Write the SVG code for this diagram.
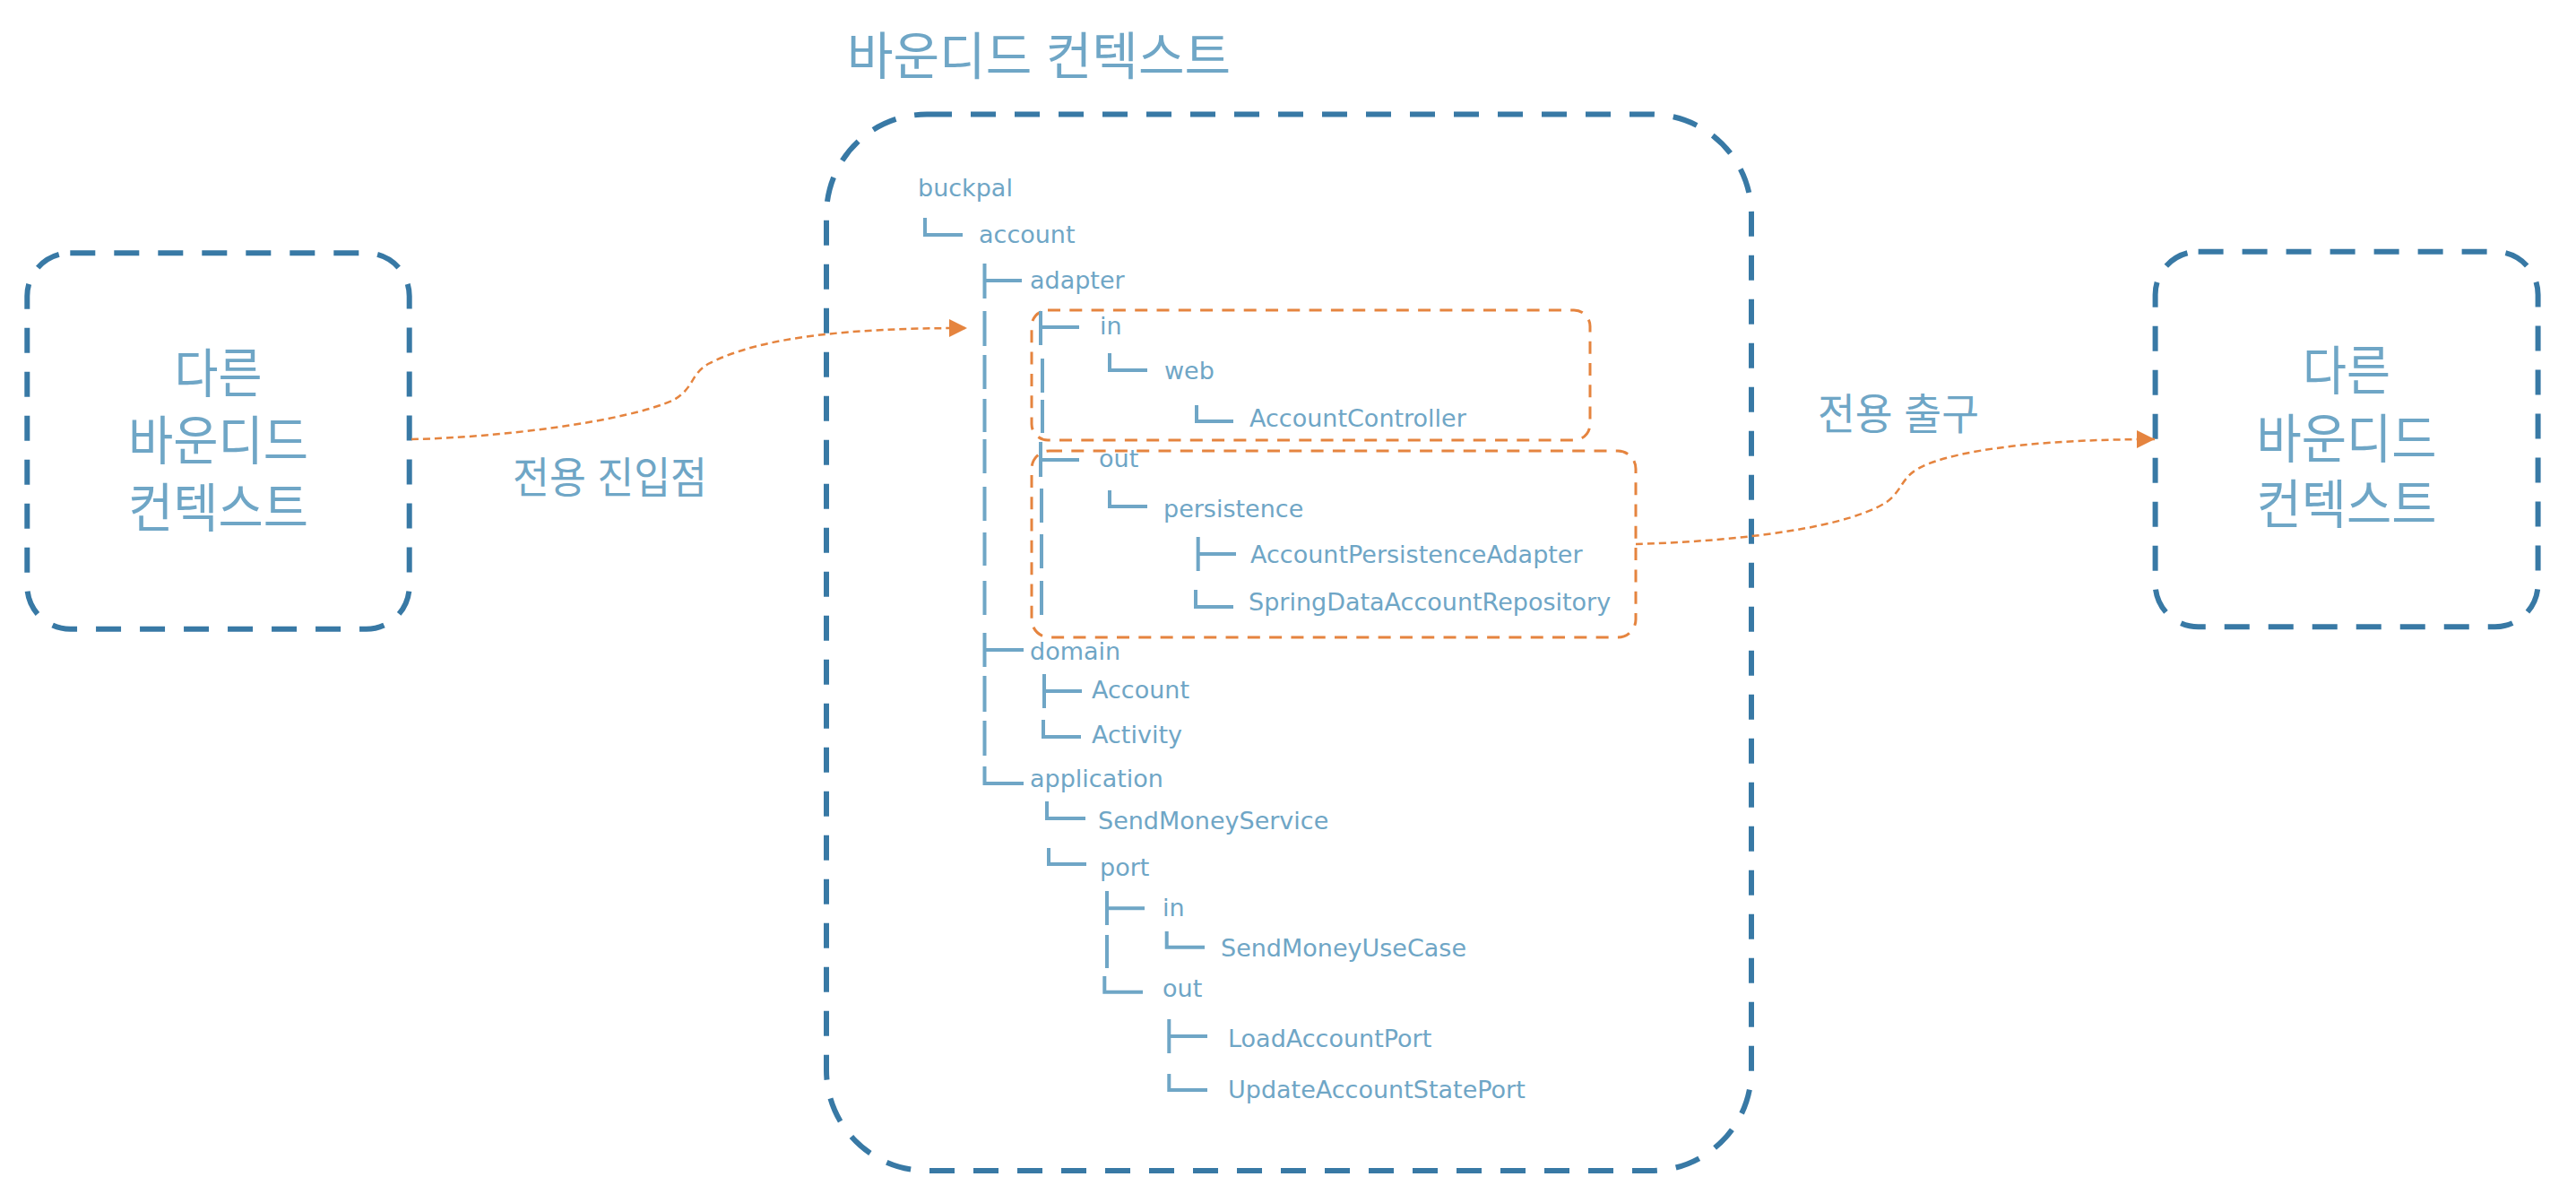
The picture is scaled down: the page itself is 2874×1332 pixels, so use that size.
<svg xmlns="http://www.w3.org/2000/svg" width="2874" height="1332" viewBox="0 0 2874 1332">
<style>
.ctx{fill:none;stroke:#3879A5;stroke-width:6;stroke-dasharray:28 21}
.hl{fill:none;stroke:#E5843F;stroke-width:3;stroke-dasharray:14 10.3}
.flow{fill:none;stroke:#E5843F;stroke-width:2.5;stroke-dasharray:8 5}
.ko{font-family:"Liberation Sans","Noto Sans CJK KR","Noto Sans CJK SC",sans-serif;fill:#6FA6C6}
.t{font-family:"DejaVu Sans",sans-serif;font-size:27px;fill:#6FA6C6}
.tl{fill:none;stroke:#6FA6C6;stroke-width:4;stroke-linejoin:miter;stroke-linecap:butt}
</style>
<defs>
<marker id="ah" markerUnits="userSpaceOnUse" markerWidth="20" markerHeight="20" refX="20" refY="10" orient="auto">
<path d="M0,0 L20,10 L0,20 z" fill="#E5843F"/>
</marker>
</defs>
<rect width="2874" height="1332" fill="#ffffff"/>

<g id="title">
<text class="ko" x="945" y="83" font-size="57" textLength="428" lengthAdjust="spacingAndGlyphs">바운디드 컨텍스트</text>
</g>

<g id="bounded-context">
<rect class="ctx" x="922" y="127.5" width="1032" height="1178.5" rx="112" ry="112"/>
</g>

<g id="highlight-in">
<rect class="hl" x="1151" y="346" width="623" height="145" rx="18" ry="18"/>
</g>
<g id="highlight-out">
<rect class="hl" x="1151" y="503" width="674" height="208" rx="20" ry="20"/>
</g>

<g id="other-context-left">
<rect class="ctx" x="30.3" y="282.3" width="426.4" height="419.4" rx="48" ry="48"/>
<text class="ko" x="243.5" y="438" font-size="59" text-anchor="middle" textLength="98" lengthAdjust="spacingAndGlyphs">다른</text>
<text class="ko" x="243.5" y="513" font-size="59" text-anchor="middle" textLength="201" lengthAdjust="spacingAndGlyphs">바운디드</text>
<text class="ko" x="243.5" y="588" font-size="59" text-anchor="middle" textLength="201" lengthAdjust="spacingAndGlyphs">컨텍스트</text>
</g>

<g id="other-context-right">
<rect class="ctx" x="2404.6" y="280.7" width="427" height="418.6" rx="48" ry="48"/>
<text class="ko" x="2618" y="435" font-size="59" text-anchor="middle" textLength="98" lengthAdjust="spacingAndGlyphs">다른</text>
<text class="ko" x="2618" y="511" font-size="59" text-anchor="middle" textLength="201" lengthAdjust="spacingAndGlyphs">바운디드</text>
<text class="ko" x="2618" y="584" font-size="59" text-anchor="middle" textLength="201" lengthAdjust="spacingAndGlyphs">컨텍스트</text>
</g>

<g id="tree">
<g id="tree-lines">
<path class="tl" d="M1032 243 V262 H1074"/>
<path class="tl" d="M1098.5 294 V333 M1098.5 313 H1140"/>
<path class="tl" d="M1098.5 347 V386 M1161 347 V385 M1161 365 H1204"/>
<path class="tl" d="M1098.5 396 V434 M1163 400 V438 M1238 394 V413 H1280"/>
<path class="tl" d="M1098.5 445 V482 M1163 446 V483 M1335 452 V470 H1376"/>
<path class="tl" d="M1098.5 490 V528 M1161 493 V532 M1161 513 H1204"/>
<path class="tl" d="M1098.5 543 V581 M1162 545 V583 M1238 547 V565 H1280"/>
<path class="tl" d="M1098.5 594 V631 M1162 596 V634 M1336.7 599 V637 M1336.7 618 H1379"/>
<path class="tl" d="M1098.5 648 V686 M1162 648 V686 M1334 658 V677 H1376"/>
<path class="tl" d="M1098.5 706 V744 M1098.5 725 H1142"/>
<path class="tl" d="M1098.5 754 V794 M1165 752 V790 M1165 771 H1207"/>
<path class="tl" d="M1098.5 804 V843 M1164 803 V822 H1206"/>
<path class="tl" d="M1098.5 855 V874 H1142"/>
<path class="tl" d="M1168 894 V913 H1211"/>
<path class="tl" d="M1170 946 V964 H1212"/>
<path class="tl" d="M1235 994 V1032 M1235 1013.3 H1277"/>
<path class="tl" d="M1235 1043 V1080 M1301.7 1039 V1056.7 H1344"/>
<path class="tl" d="M1232.3 1089 V1106.7 H1275"/>
<path class="tl" d="M1304.3 1137 V1175 M1304.3 1156 H1347"/>
<path class="tl" d="M1304.3 1198 V1216 H1347"/>
</g>
<g id="tree-labels">
<text class="t" x="1024" y="219">buckpal</text>
<text class="t" x="1092" y="271">account</text>
<text class="t" x="1149" y="322">adapter</text>
<text class="t" x="1227" y="373">in</text>
<text class="t" x="1299" y="423">web</text>
<text class="t" x="1394" y="476">AccountController</text>
<text class="t" x="1226" y="521">out</text>
<text class="t" x="1298" y="577">persistence</text>
<text class="t" x="1395" y="628">AccountPersistenceAdapter</text>
<text class="t" x="1393" y="681">SpringDataAccountRepository</text>
<text class="t" x="1149" y="736">domain</text>
<text class="t" x="1218" y="779">Account</text>
<text class="t" x="1218" y="829">Activity</text>
<text class="t" x="1149" y="878">application</text>
<text class="t" x="1225" y="925">SendMoneyService</text>
<text class="t" x="1227" y="977">port</text>
<text class="t" x="1297" y="1022">in</text>
<text class="t" x="1362" y="1067">SendMoneyUseCase</text>
<text class="t" x="1297" y="1112">out</text>
<text class="t" x="1370" y="1168">LoadAccountPort</text>
<text class="t" x="1370" y="1225">UpdateAccountStatePort</text>
</g>
</g>

<g id="connectors">
<path class="flow" d="M459 490 C560 488 700 470 752 446 C775 432 770 418 790 406 C850 375 950 366 1079 366" marker-end="url(#ah)"/>
<path class="flow" d="M1825 607 C1900 605 2050 595 2105 560 C2125 545 2120 530 2150 518 C2200 498 2300 490 2404 490" marker-end="url(#ah)"/>
<text class="ko" x="572" y="550" font-size="48" textLength="217" lengthAdjust="spacingAndGlyphs">전용 진입점</text>
<text class="ko" x="2028" y="479" font-size="48" textLength="180" lengthAdjust="spacingAndGlyphs">전용 출구</text>
</g>
</svg>
